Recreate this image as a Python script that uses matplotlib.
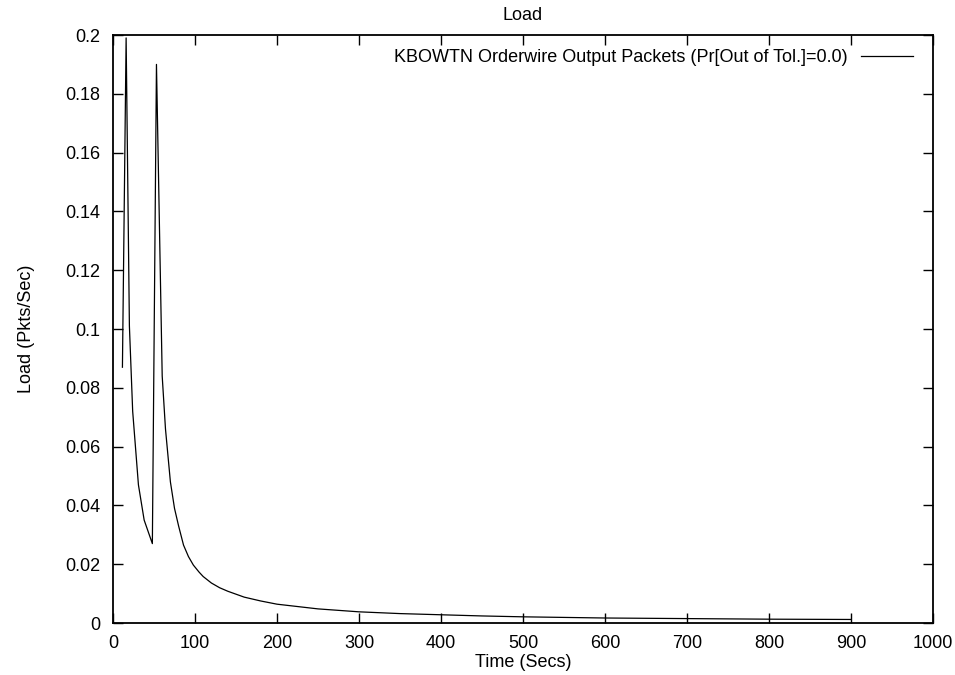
import matplotlib
matplotlib.use("Agg")
import matplotlib.pyplot as plt
from matplotlib.ticker import FuncFormatter

# Load samples: time (s) and load (packets/s)
time_s = [11.5, 16, 20, 24, 31, 38, 48, 53, 60, 64, 70, 75, 80, 86, 92, 98,
          105, 110, 115, 120, 130, 140, 147, 160, 180, 200, 250, 300, 350,
          400, 450, 500, 550, 600, 700, 800, 900]
load_pps = [0.087, 0.199, 0.101, 0.072, 0.047, 0.035, 0.027, 0.190, 0.084,
            0.066, 0.048, 0.039, 0.033, 0.0265, 0.0226, 0.0197, 0.0173,
            0.0158, 0.0147, 0.0136, 0.0120, 0.0108, 0.0101, 0.0088, 0.0075,
            0.0064, 0.0048, 0.0038, 0.0032, 0.0028, 0.0024, 0.0021, 0.0019,
            0.0017, 0.0015, 0.0013, 0.0012]

series_label = "KBOWTN Orderwire Output Packets (Pr[Out of Tol.]=0.0)"
x_ticks = list(range(0, 1001, 100))
y_ticks = [0, 0.02, 0.04, 0.06, 0.08, 0.1, 0.12, 0.14, 0.16, 0.18, 0.2]

plt.rcParams['font.family'] = ['Liberation Sans', 'DejaVu Sans']
fs = 13

fig = plt.figure(figsize=(9.55, 6.75), dpi=100)
ax = fig.add_axes([113 / 955, 52 / 675, 820 / 955, 588 / 675])

ax.plot(time_s, load_pps, color='black', linewidth=0.9, label=series_label)

ax.set_xlim(0, 1000)
ax.set_ylim(0, 0.2)
ax.set_xticks(x_ticks)
ax.set_yticks(y_ticks)
ax.yaxis.set_major_formatter(FuncFormatter(lambda v, p: f"{v:g}"))
ax.tick_params(direction='in', length=7, width=1, top=True, right=True,
               labelsize=fs)
ax.tick_params(axis='x', pad=9)
ax.tick_params(axis='y', pad=9)
for s in ax.spines.values():
    s.set_linewidth(1.3)

ax.set_title("Load", fontsize=fs, pad=11)
ax.set_xlabel("Time (Secs)", fontsize=fs, labelpad=1)
ax.set_ylabel("Load (Pkts/Sec)", fontsize=fs, labelpad=22)

leg = ax.legend(loc='upper right', bbox_to_anchor=(1 - 20 / 820, 1 - 14 / 588),
                frameon=False, markerfirst=False, handlelength=2.9,
                handletextpad=0.7, borderaxespad=0, borderpad=0,
                fontsize=fs)

fig.savefig("out.png", dpi=100)
